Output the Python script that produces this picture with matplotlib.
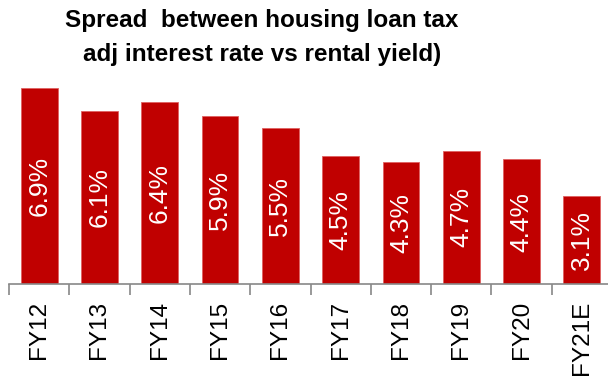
import matplotlib.pyplot as plt
import numpy as np

# Spread between housing loan tax-adjusted interest rate and rental yield (%)
years = ['FY12', 'FY13', 'FY14', 'FY15', 'FY16', 'FY17', 'FY18', 'FY19', 'FY20', 'FY21E']
spread = [6.9, 6.1, 6.4, 5.9, 5.5, 4.5, 4.3, 4.7, 4.4, 3.1]

fig = plt.figure(figsize=(6.08, 3.78), dpi=100)
ax = fig.add_axes([9 / 608, 94 / 378, 599 / 608, 7.0 * 28.4 / 378])

x = np.arange(len(years))
bars = ax.bar(x, spread, width=0.61, color='#C00000', edgecolor='#E06060', linewidth=0.6)

# value labels inside the bars, rotated
for xi, v in zip(x, spread):
    ax.text(xi, v / 2, f'{v:.1f}%', rotation=90, ha='center', va='center',
            color='white', fontsize=19, family='Liberation Sans')

ax.set_xlim(-0.5, 9.5 - 4 / 60.3)
ax.set_ylim(0, 7.0)

# category labels at bar centres, tick marks at category boundaries
ax.set_xticks(x)
ax.set_xticklabels(years, rotation=90, fontsize=17.5, family='Liberation Sans')
ax.tick_params(axis='x', which='major', length=0, pad=12)
ax.set_xticks(np.arange(len(years)) - 0.5, minor=True)
ax.tick_params(axis='x', which='minor', length=8, width=1.2, color='#888888', direction='out')

ax.set_yticks([])
for side in ['top', 'right', 'left']:
    ax.spines[side].set_visible(False)
ax.spines['bottom'].set_color('#888888')
ax.spines['bottom'].set_linewidth(1.2)

fig.text(262 / 608, 1 - 21 / 378, 'Spread  between housing loan tax', ha='center', va='center',
         fontsize=17.5, fontweight='bold', family='Liberation Sans')
fig.text(262 / 608, 1 - 55 / 378, 'adj interest rate vs rental yield)', ha='center', va='center',
         fontsize=17.5, fontweight='bold', family='Liberation Sans')

fig.savefig('out.png', dpi=100)
